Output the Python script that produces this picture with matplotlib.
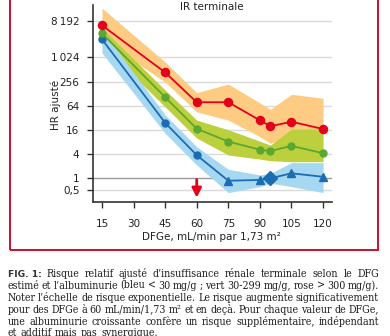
import matplotlib
matplotlib.use("Agg")
import matplotlib.pyplot as plt
from matplotlib.patches import Rectangle
from matplotlib import font_manager
import numpy as np

# ---------------- data ----------------
dfge = [15, 45, 60, 75, 90, 95, 105, 120]

red_hr = [6400, 430, 78, 78, 27.7, 19.7, 25.6, 16.8]
red_hi = [17200, 782, 135, 221, 75, 52, 123, 98]
red_lo = [2760, 249, 45, 28, 10.8, 7.4, 12, 11.3]

green_hr = [4050, 104, 17.1, 8.2, 5.15, 4.78, 6.4, 4.2]
green_hi = [5480, 157, 28, 16.1, 8.4, 6.7, 16.8, 16.8]
green_lo = [2070, 60, 10, 3.8, 3.0, 2.74, 2.59, 2.59]

blue_hr = [2870, 24, 3.76, 0.87, 0.91, 1.0, 1.33, 1.09]
blue_hi = [4900, 37.6, 6.1, 1.67, 1.21, 1.33, 2.45, 2.45]
blue_lo = [1310, 13.2, 2.14, 0.44, 0.62, 0.76, 0.62, 0.44]

x_ticks = [15, 30, 45, 60, 75, 90, 105, 120]
y_ticks = [0.5, 1, 4, 16, 64, 256, 1024, 8192]
y_tick_labels = ["0,5", "1", "4", "16", "64", "256", "1\u2009024", "8\u2009192"]

title = "IR terminale"
xlabel = "DFGe, mL/min par 1,73 m²"
ylabel = "HR ajusté"
arrow_x = 60

caption_lines = [
    "Risque relatif ajusté d’insuffisance rénale terminale selon le DFG",
    "estimé et l’albuminurie (bleu < 30 mg/g ; vert 30-299 mg/g, rose > 300 mg/g).",
    "Noter l’échelle de risque exponentielle. Le risque augmente significativement",
    "pour des DFGe à 60 mL/min/1,73 m² et en deçà. Pour chaque valeur de DFGe,",
    "une albuminurie croissante confère un risque supplémentaire, indépendant",
    "et additif mais pas synergique.",
]
caption_label = "FIG. 1:"

# ---------------- style ----------------
RED = "#E3001B"
ORANGE_BAND = "#FDCC82"
GREEN = "#5AA831"
GREEN_BAND = "#BCCF3C"
BLUE = "#1D6CB3"
BLUE_BAND = "#A6D8F1"
FRAME = "#C8102E"

W, H = 390, 336
fig = plt.figure(figsize=(W / 100, H / 100), dpi=100)

def fx(px):
    return px / W

def fy(py):
    return 1 - py / H

ax_l, ax_r, ax_t, ax_b = 93.3, 331.7, 5, 202
ax = fig.add_axes([fx(ax_l), fy(ax_b), fx(ax_r - ax_l), (ax_b - ax_t) / H])
ax.set_yscale("log", base=2)
ax.set_xlim(10.87, 124.1)
ax.set_ylim(0.257, 20500)

# grid lines
for yt in y_ticks:
    ax.axhline(yt, color="#9a9a9a" if yt == 1 else "#dadada", lw=1.0, zorder=0)

# bands
ax.fill_between(dfge, red_lo, red_hi, color=ORANGE_BAND, lw=0, zorder=1)
ax.fill_between(dfge, green_lo, green_hi, color=GREEN_BAND, lw=0, zorder=2)
ax.fill_between(dfge, blue_lo, blue_hi, color=BLUE_BAND, lw=0, zorder=3)

# lines
ax.plot(dfge, red_hr, color=RED, lw=1.3, marker="o", ms=5.8, zorder=6)
ax.plot(dfge, green_hr, color=GREEN, lw=1.3, marker="o", ms=5.0, zorder=5)
ax.plot(dfge, blue_hr, color=BLUE, lw=1.3, zorder=4)
circ_idx = [0, 1, 2]
tri_idx = [3, 4, 6, 7]
dia_idx = [5]
ax.plot([dfge[i] for i in circ_idx], [blue_hr[i] for i in circ_idx], ls="none",
        marker="o", ms=5.0, color=BLUE, zorder=4)
ax.plot([dfge[i] for i in tri_idx], [blue_hr[i] for i in tri_idx], ls="none",
        marker="^", ms=5.5, color=BLUE, zorder=4)
ax.plot([dfge[i] for i in dia_idx], [blue_hr[i] for i in dia_idx], ls="none",
        marker="D", ms=7.5, color=BLUE, zorder=4)

# red arrow
ax.annotate("", xy=(arrow_x, 0.33), xytext=(arrow_x, 0.93),
            arrowprops=dict(arrowstyle="-|>,head_width=0.28,head_length=0.55",
                            color=RED, lw=2.0, shrinkA=0, shrinkB=0), zorder=7)

# axes styling
for s in ["top", "right"]:
    ax.spines[s].set_visible(False)
for s in ["left", "bottom"]:
    ax.spines[s].set_color("#333333")
    ax.spines[s].set_linewidth(1.2)
ax.set_xticks(x_ticks)
ax.set_xticklabels([str(v) for v in x_ticks])
ax.set_yticks(y_ticks)
ax.set_yticklabels(y_tick_labels)
ax.minorticks_off()
ax.tick_params(axis="both", direction="out", length=4, width=1, color="#333333",
               labelsize=7.5, labelcolor="#222222")
ax.tick_params(axis="x", pad=8)
ax.tick_params(axis="y", pad=6)

fig.text(fx(212), fy(7), title, ha="center", va="center", fontsize=7.5, color="#222222")
fig.text(fx(211), fy(237), xlabel, ha="center", va="center", fontsize=7.5, color="#222222")
fig.text(fx(56), fy(105), ylabel, ha="center", va="center", rotation=90,
         fontsize=7.5, color="#222222")

# red frame
fig.add_artist(Rectangle((fx(9.7), fy(250)), fx(378.3 - 9.7), (250 + 10) / H,
                         transform=fig.transFigure, fill=False, ec=FRAME, lw=1.4))

# ---------------- justified caption ----------------
renderer = fig.canvas.get_renderer()
cond = [f for f in font_manager.fontManager.ttflist
        if f.name == "DejaVu Serif" and str(f.stretch) in ("condensed", "semi-condensed")
        and f.weight in (400, "normal") and f.style == "normal"]
if cond:
    cap_font = dict(family="DejaVu Serif", stretch="condensed", color="#1e1e1e")
    label_font = dict(family="DejaVu Sans", weight="bold", color="#333333")
else:
    cap_font = dict(family="Liberation Serif", color="#1e1e1e")
    label_font = dict(family="DejaVu Sans", weight="bold", color="#333333")
x0, x1 = 7.5, 379.0
baselines = [276.7, 288.7, 300.7, 312.7, 324.7, 336.0]

def measure(txt, **kw):
    t = fig.text(0, 0, txt, **kw)
    w = t.get_window_extent(renderer).width
    t.remove()
    return w

def build_words(i, line):
    words = []
    if i == 0:
        words.append((caption_label, label_font))
    for w in line.split(" "):
        words.append((w, cap_font))
    return words

def fsize(k, size):
    return size * (0.85 if k.get("weight") == "bold" else 1)

size = 8.8
while True:
    ok = True
    for i, line in enumerate(caption_lines[:-1]):
        ws = build_words(i, line)
        tot = sum(measure(w, fontsize=fsize(k, size), **k) for w, k in ws)
        if tot + (len(ws) - 1) * 1.8 > x1 - x0:
            ok = False
            break
    if ok or size < 6:
        break
    size -= 0.1

for i, line in enumerate(caption_lines):
    ws = build_words(i, line)
    sizes = [fsize(k, size) for _, k in ws]
    widths = [measure(w, fontsize=s, **k) for (w, k), s in zip(ws, sizes)]
    if i < len(caption_lines) - 1:
        gap = (x1 - x0 - sum(widths)) / (len(ws) - 1)
    else:
        gap = measure("a", fontsize=size, **cap_font) * 0.6
    xp = x0
    for (w, k), s, wd in zip(ws, sizes, widths):
        fig.text(fx(xp), fy(baselines[i]), w, ha="left", va="baseline", fontsize=s, **k)
        xp += wd + gap

fig.savefig("out.png", dpi=100)
